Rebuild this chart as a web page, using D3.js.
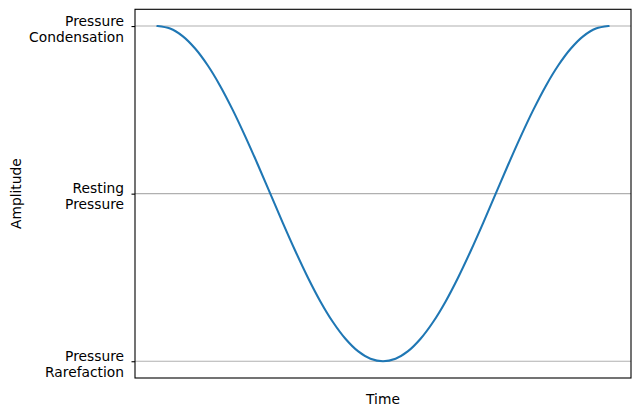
<!DOCTYPE html>
<html>
<head>
<meta charset="utf-8">
<script src="https://cdn.jsdelivr.net/npm/d3@7"></script>
<style>
  body { margin: 0; background: #fff; }
  text { font-family: "DejaVu Sans", sans-serif; }
</style>
</head>
<body>
<div id="chart"></div>
<script>
var width = 640, height = 417;
var margin = { top: 9.3, right: 9, bottom: 39, left: 135 };

// time steps (one full cycle) and amplitude
var timeSteps = [0, 1, 2, 3, 4, 5, 6, 7, 8, 9, 10, 11, 12, 13, 14, 15, 16, 17, 18,
                 19, 20, 21, 22, 23, 24, 25, 26, 27, 28, 29, 30, 31, 32, 33, 34, 35, 36];
var amplitude = [1.000, 0.985, 0.940, 0.866, 0.766, 0.643, 0.500, 0.342, 0.174, 0.000,
                 -0.174, -0.342, -0.500, -0.643, -0.766, -0.866, -0.940, -0.985, -1.000,
                 -0.985, -0.940, -0.866, -0.766, -0.643, -0.500, -0.342, -0.174, 0.000,
                 0.174, 0.342, 0.500, 0.643, 0.766, 0.866, 0.940, 0.985, 1.000];
var tickValues = [-1, 0, 1];
var tickLabels = [["Pressure", "Rarefaction"], ["Resting", "Pressure"], ["Pressure", "Condensation"]];

var w = width - margin.left - margin.right;
var h = height - margin.top - margin.bottom;

var svg = d3.select("#chart").append("svg")
    .attr("width", width)
    .attr("height", height);

var g = svg.append("g")
    .attr("transform", "translate(" + margin.left + "," + margin.top + ")");

var x = d3.scaleLinear().domain([-1.8, 37.8]).range([0, w]);
var y = d3.scaleLinear().domain([-1.1, 1.1]).range([h, 0]);

// grid lines
g.append("g")
    .selectAll("line")
    .data(tickValues)
    .enter().append("line")
    .attr("x1", 0).attr("x2", w)
    .attr("y1", function (d) { return y(d); })
    .attr("y2", function (d) { return y(d); })
    .attr("stroke", "#b0b0b0")
    .attr("stroke-width", 1.1);

var data = timeSteps.map(function (t, i) { return { t: t, v: amplitude[i] }; });

var line = d3.line()
    .x(function (d) { return x(d.t); })
    .y(function (d) { return y(d.v); })
    .curve(d3.curveCatmullRom);

g.append("path")
    .datum(data)
    .attr("fill", "none")
    .attr("stroke", "#1f77b4")
    .attr("stroke-width", 2.08)
    .attr("stroke-linecap", "square")
    .attr("d", line);

// y axis with two-line labels
var yAxis = g.append("g")
    .call(d3.axisLeft(y).tickValues(tickValues).tickSize(3.5).tickFormat(""));
yAxis.select(".domain").remove();
yAxis.selectAll(".tick line").attr("stroke", "#000").attr("stroke-width", 1.1);

yAxis.selectAll(".tick").each(function (d) {
    var lbl = tickLabels[tickValues.indexOf(d)];
    var t = d3.select(this).append("text")
        .attr("fill", "#000")
        .attr("text-anchor", "end")
        .attr("font-size", "13.8px");
    t.append("tspan").attr("x", -11).attr("y", -1).text(lbl[0]);
    t.append("tspan").attr("x", -11).attr("y", 15).text(lbl[1]);
});

// frame
g.append("rect")
    .attr("width", w).attr("height", h)
    .attr("fill", "none")
    .attr("stroke", "#000")
    .attr("stroke-width", 1.1);

// axis titles
svg.append("text")
    .attr("x", margin.left + w / 2)
    .attr("y", 404)
    .attr("text-anchor", "middle")
    .attr("font-size", "13.8px")
    .text("Time");

svg.append("text")
    .attr("transform", "translate(21," + (margin.top + h / 2) + ") rotate(-90)")
    .attr("text-anchor", "middle")
    .attr("font-size", "13.8px")
    .text("Amplitude");
</script>
</body>
</html>
